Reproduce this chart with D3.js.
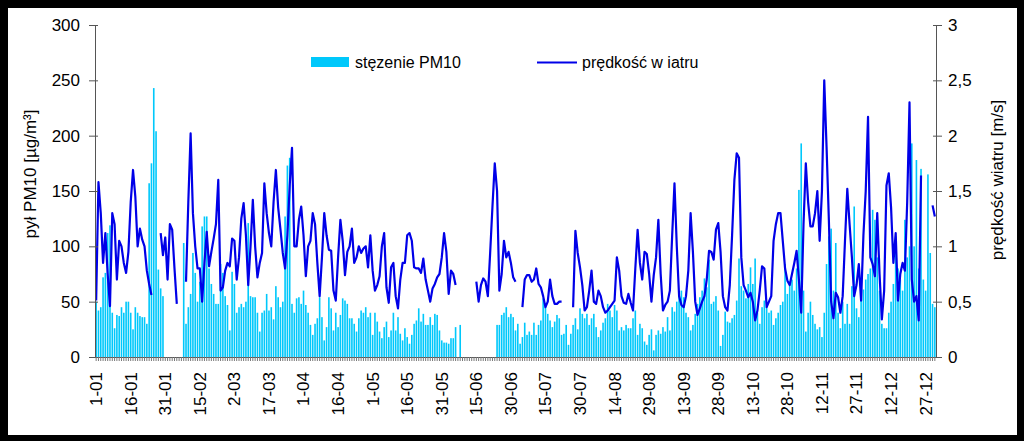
<!DOCTYPE html>
<html><head><meta charset="utf-8">
<script src="https://cdn.jsdelivr.net/npm/d3@7"></script>
<style>html,body{margin:0;padding:0;background:#000;} svg{display:block;}</style>
</head><body>
<svg id="c" width="1024" height="441"></svg>
<script>
// PM10 concentration per day [µg/m³] (null = no measurement)
const pm10 = [
50,42,45,72,76,112,119,40,26,38,37,45,40,50,50,40,25,45,40,37,36,36,30,157,175,243,204,79,62,55,
null,null,null,null,null,null,null,null,
103,30,45,57,94,
76,50,68,118,127,127,80,66,57,48,48,84,76,55,47,24,77,66,40,45,48,45,50,121,55,54,54,40,23,40,42,57,42,45,34,64,54,45,50,127,173,180,48,40,53,54,48,60,
47,40,29,20,30,35,54,36,15,27,54,44,24,40,27,38,53,51,48,35,35,30,23,35,42,40,45,36,40,20,40,32,23,17,27,32,18,24,40,24,36,21,15,
26,18,12,20,30,33,44,32,39,29,29,36,29,39,38,24,15,13,13,12,17,17,27,
null,29,
null,null,null,null,null,null,null,null,null,null,null,null,null,null,null,
29,29,38,40,45,36,
39,36,24,30,12,18,31,20,23,20,31,20,29,33,53,48,39,33,27,32,38,35,20,21,29,11,21,29,35,25,44,39,35,39,29,35,39,27,18,24,31,35,48,42,36,47,42,
24,27,24,29,26,26,35,42,20,30,26,14,11,20,25,6,20,24,21,27,23,36,24,45,41,50,60,60,54,40,36,24,29,39,48,54,60,71,63,88,48,50,55,42,
10,20,41,32,31,35,38,51,89,64,60,53,66,81,66,89,40,30,45,51,45,40,42,29,35,40,47,50,84,57,66,70,60,80,151,193,60,23,40,50,38,30,25,27,18,40,
84,109,116,60,103,40,26,50,30,48,30,64,136,44,36,60,61,70,75,80,133,124,90,60,30,26,26,40,50,66,109,80,70,60,124,90,100,193,100,178,80,170,70,60,165,94,48,45
];
// wind speed per day [m/s] (null = no measurement)
const wind = [
0.51,1.58,1.3,0.85,1.12,0.75,0.46,1.3,1.2,0.7,1.05,1.0,0.85,0.76,0.95,1.4,1.69,1.45,1.0,1.16,1.06,1.0,0.78,0.66,0.56,
null,null,null,
1.12,0.92,1.08,0.7,1.2,1.15,0.8,0.48,
null,null,null,
0.68,1.4,2.02,
1.3,1.0,0.8,0.8,0.5,0.85,1.13,0.82,0.95,1.07,1.2,1.6,0.6,0.63,0.78,0.85,0.82,1.07,1.05,0.7,0.9,1.25,1.39,1.1,0.65,1.0,1.42,1.0,0.72,0.85,0.94,1.57,1.3,1.12,1.0,1.4,1.69,1.35,1.15,0.94,0.8,1.1,1.55,1.89,1.0,1.0,1.24,1.36,1.1,
0.73,1.0,1.05,1.3,1.2,0.85,0.55,0.9,1.3,1.1,0.97,0.96,0.6,0.51,0.9,1.24,1.05,0.74,0.95,1.0,1.16,0.85,0.9,1.0,0.94,0.98,1.0,0.81,1.1,0.78,0.6,0.65,0.73,1.0,1.12,0.63,0.49,0.81,0.85,0.55,0.44,0.7,0.85,
0.85,1.1,1.12,1.05,0.81,0.8,0.8,0.76,0.89,0.7,0.6,0.5,0.62,0.66,0.72,0.75,0.9,1.12,0.95,0.57,0.78,0.75,0.65,
null,null,null,null,null,null,null,null,
0.68,0.5,0.65,0.71,0.68,0.55,0.94,1.36,1.75,1.5,0.6,0.75,1.05,0.9,0.95,0.85,0.72,0.68,
null,null,
0.45,0.7,0.74,0.74,0.68,0.7,0.8,0.66,0.63,0.55,0.45,0.5,0.7,0.55,0.48,0.48,0.5,0.5,
null,null,null,null,
0.45,1.14,0.94,0.81,0.65,0.42,0.45,0.6,0.78,0.5,0.48,0.6,0.55,0.45,0.4,0.42,0.45,0.48,0.51,
0.9,0.78,0.55,0.49,0.48,0.57,0.49,0.42,0.8,1.15,0.85,0.7,0.95,0.93,0.75,0.5,0.74,0.9,1.24,0.75,0.42,0.47,0.5,0.6,1.1,1.57,1.0,0.55,0.47,0.45,0.55,0.78,1.3,0.95,0.5,0.38,0.44,0.5,0.55,0.7,0.96,0.95,0.88,1.15,1.21,0.95,
0.55,0.45,0.42,0.65,1.1,1.6,1.84,1.8,0.9,0.65,0.6,0.54,0.58,0.5,0.33,0.42,0.6,0.82,0.8,0.45,0.5,0.55,1.05,1.2,1.3,1.3,1.05,0.8,0.69,0.65,0.75,0.85,0.96,0.7,0.4,1.2,1.75,1.4,1.18,1.18,1.3,1.5,1.05,1.5,2.5,
1.9,1.24,0.5,0.35,0.58,0.54,0.4,0.55,1.05,1.52,1.2,0.9,0.55,0.65,0.84,0.51,1.1,1.5,2.17,0.9,0.84,0.73,1.3,0.75,0.34,0.6,1.55,1.66,1.35,0.85,1.12,0.51,0.75,0.85,0.78,1.4,2.3,0.7,0.5,0.55,0.33,1.64,
null,null,null,null,
1.37,1.27
];
const tickLabels = ["1-01","16-01","31-01","15-02","2-03","17-03","1-04","16-04","1-05","16-05","31-05","15-06","30-06","15-07","30-07","14-08","29-08","13-09","28-09","13-10","28-10","12-11","27-11","12-12","27-12"];
const leftTicks = [0,50,100,150,200,250,300];
const rightTicks = [0,0.5,1,1.5,2,2.5,3];
const seriesNames = ["stęzenie PM10","prędkość w iatru"];
const leftTitle = "pył PM10 [µg/m³]";
const rightTitle = "prędkość wiatru [m/s]";

const days = d3.timeDays(new Date(2006,0,1), new Date(2007,0,1));
const fmt = d3.timeFormat("%-d-%m");
const categories = days.map(fmt);

const FONT = "Arial, 'Liberation Sans', sans-serif";
const BAR = "#00c8fb", LINE = "#0000e8", AXIS = "#555";
const svg = d3.select("#c");
svg.append("rect").attr("x",0).attr("y",0).attr("width",1024).attr("height",441).attr("fill","#000");
svg.append("rect").attr("x",8).attr("y",8).attr("width",1009).attr("height",427).attr("fill","#fff");

const L = 95, R = 936, T = 25, B = 357;
const x = d3.scaleBand().domain(categories).range([L, R]).paddingInner(0.3).paddingOuter(0.15);
const yL = d3.scaleLinear().domain([0,300]).range([B,T]);
const yR = d3.scaleLinear().domain([0,3]).range([B,T]);
const cx = i => x(categories[i]) + x.bandwidth()/2;

// bars
svg.append("g").selectAll("rect").data(pm10.map((v,i)=>({v,i})).filter(d=>d.v!=null))
  .join("rect")
  .attr("x", d => x(categories[d.i]))
  .attr("width", x.bandwidth())
  .attr("y", d => yL(d.v))
  .attr("height", d => B - yL(d.v))
  .attr("fill", BAR);

// line
const line = d3.line().defined(d => d.v != null).x(d => cx(d.i)).y(d => yR(d.v));
svg.append("path").datum(wind.map((v,i)=>({v,i})))
  .attr("d", line).attr("fill","none").attr("stroke",LINE).attr("stroke-width",2.2)
  .attr("stroke-linejoin","round");

// axes
function styleAxis(g){
  g.selectAll("path,line").attr("stroke", AXIS).attr("stroke-width",1);
  g.selectAll("text").attr("font-family",FONT).attr("font-size",17).attr("fill","#000");
}
const gL = svg.append("g").attr("transform",`translate(${L},0)`)
  .call(d3.axisLeft(yL).tickValues(leftTicks).tickSize(6).tickPadding(9).tickSizeOuter(0));
gL.selectAll(".tick line").attr("x1",3);
styleAxis(gL);
const gR = svg.append("g").attr("transform",`translate(${R},0)`)
  .call(d3.axisRight(yR).tickValues(rightTicks).tickSize(6).tickPadding(6).tickSizeOuter(0)
  .tickFormat(d => String(d).replace(".", ",")));
gR.selectAll(".tick line").attr("x1",-3);
styleAxis(gR);

// x axis: minor ticks every day
const gX = svg.append("g").attr("transform",`translate(0,${B})`)
  .call(d3.axisBottom(x).tickValues(categories).tickSize(4).tickFormat("").tickSizeOuter(0));
styleAxis(gX);
gX.select(".domain").attr("d", `M${L},0.5H${R}`);
gX.selectAll(".tick line").attr("stroke","#777");
const gXL = svg.append("g").attr("transform",`translate(0,${B})`)
  .call(d3.axisBottom(x).tickValues(tickLabels).tickSize(0));
gXL.select(".domain").remove();
gXL.selectAll("text")
  .attr("transform","rotate(-90)").attr("text-anchor","end")
  .attr("x",-15).attr("y",0).attr("dy","0.35em")
  .attr("font-family",FONT).attr("font-size",17).attr("fill","#000");

// titles
svg.append("text").attr("transform","translate(36,174) rotate(-90)").attr("text-anchor","middle")
  .attr("font-family",FONT).attr("font-size",17).text(leftTitle);
svg.append("text").attr("transform","translate(1003,180) rotate(-90)").attr("text-anchor","middle")
  .attr("font-family",FONT).attr("font-size",17).text(rightTitle);

// legend
const lg = svg.append("g");
lg.append("rect").attr("x",311).attr("y",57).attr("width",38).attr("height",10).attr("fill",BAR);
lg.append("text").attr("x",355).attr("y",67.5).attr("font-family",FONT).attr("font-size",16).text(seriesNames[0]);
lg.append("line").attr("x1",537).attr("x2",577).attr("y1",62.5).attr("y2",62.5).attr("stroke",LINE).attr("stroke-width",2);
lg.append("text").attr("x",582).attr("y",67.5).attr("font-family",FONT).attr("font-size",16).text(seriesNames[1]);
</script>
</body></html>
